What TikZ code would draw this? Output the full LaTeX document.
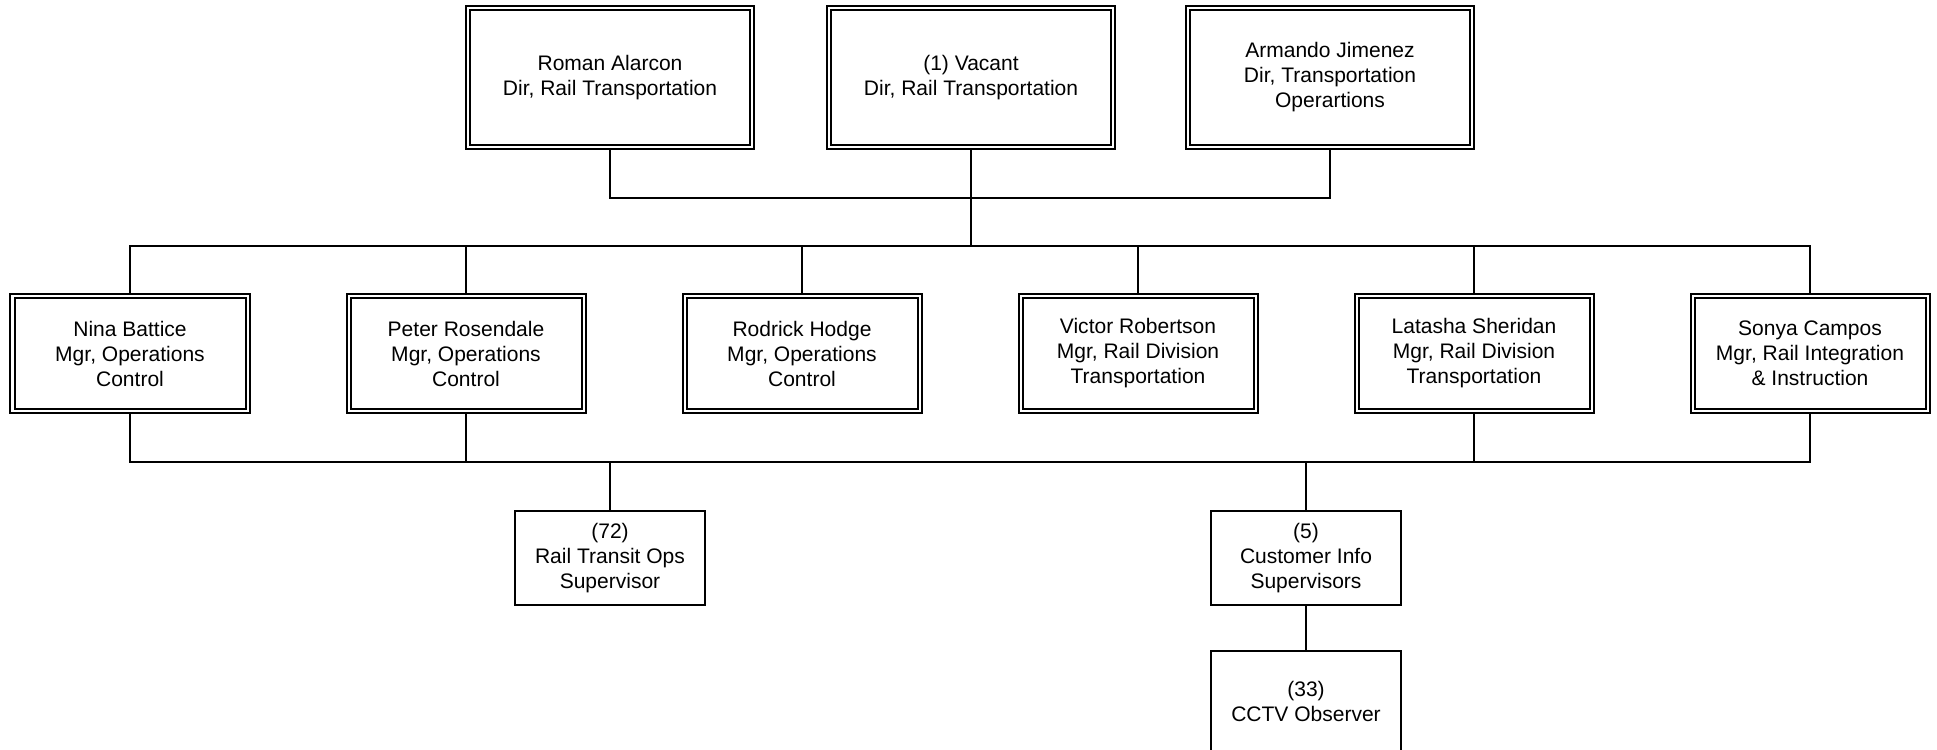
\documentclass[tikz,border=0pt]{standalone}
\usepackage{fontspec}
\setmainfont{Liberation Sans}
\usetikzlibrary{calc}
\definecolor{c1}{HTML}{000000}
\definecolor{bg}{HTML}{FFFFFF}

\begin{document}
\begin{tikzpicture}[
    every node/.style={font=\fontsize{5.98}{7.11}\selectfont, text=c1},
    link/.style={draw=c1, line width=0.02cm},
    head/.style={rectangle, draw=c1, line width=0.02cm, double=bg, double distance=0.02cm,
                 outer sep=0.03cm, align=center, inner sep=0pt},
    dirbox/.style={head, minimum width=2.84cm, minimum height=1.39cm},
    mgrbox/.style={head, minimum width=2.35cm, minimum height=1.15cm},
    post/.style={rectangle, draw=c1, fill=bg, line width=0.02cm, align=center, inner sep=0pt,
                 minimum width=1.90cm, minimum height=0.94cm},
]

% ============================================================ page
\fill[bg] (0, 0) rectangle (19.37, 7.49);
\useasboundingbox (0, 0) rectangle (19.37, 7.49);

% ============================================================ directors
\node[dirbox] (roman)   at (6.10, 6.715) {Roman Alarcon\\ Dir, Rail Transportation};
\node[dirbox] (vacant)  at (9.71, 6.715) {(1) Vacant\\ Dir, Rail Transportation};
\node[dirbox] (armando) at (13.30, 6.715) {Armando Jimenez\\ Dir, Transportation\\ Operartions};

% ============================================================ managers
\node[mgrbox] (nina)    at (1.30, 3.955) {Nina Battice\\ Mgr, Operations\\ Control};
\node[mgrbox] (peter)   at (4.66, 3.955) {Peter Rosendale\\ Mgr, Operations\\ Control};
\node[mgrbox] (rodrick) at (8.02, 3.955) {Rodrick Hodge\\ Mgr, Operations\\ Control};
\node[mgrbox] (victor)  at (11.38, 3.955) {Victor Robertson\\ Mgr, Rail Division\\ Transportation};
\node[mgrbox] (latasha) at (14.74, 3.955) {Latasha Sheridan\\ Mgr, Rail Division\\ Transportation};
\node[mgrbox] (sonya)   at (18.10, 3.955) {Sonya Campos\\ Mgr, Rail Integration\\ \& Instruction};

% ============================================================ staff
\node[post] (rail)     at (6.10, 1.91) {(72)\\ Rail Transit Ops\\ Supervisor};
\node[post] (customer) at (13.06, 1.91) {(5)\\ Customer Info\\ Supervisors};
\node[post, minimum height=1.00cm] (cctv) at (13.06, 0.48) {(33)\\ CCTV Observer};

% ============================================================ lines
\coordinate (topbus) at (9.71, 5.51);
\coordinate (rowbus) at (9.71, 5.03);
\coordinate (lowbus) at (9.71, 2.87);

\draw[link] (roman.south) |- (topbus) -| (armando.south);
\draw[link] (vacant.south) -- (rowbus);

\draw[link] (nina.north) |- (rowbus) -| (sonya.north);
\foreach \m in {peter, rodrick, victor, latasha}{
    \draw[link] (\m.north) -- (\m.north |- rowbus);
}

\draw[link] (nina.south) |- (lowbus) -| (sonya.south);
\foreach \m in {peter, latasha}{
    \draw[link] (\m.south) -- (\m.south |- lowbus);
}
\draw[link] (rail.north) -- (rail.north |- lowbus);
\draw[link] (customer.north) -- (customer.north |- lowbus);
\draw[link] (customer.south) -- (cctv.north);

\end{tikzpicture}
\end{document}
